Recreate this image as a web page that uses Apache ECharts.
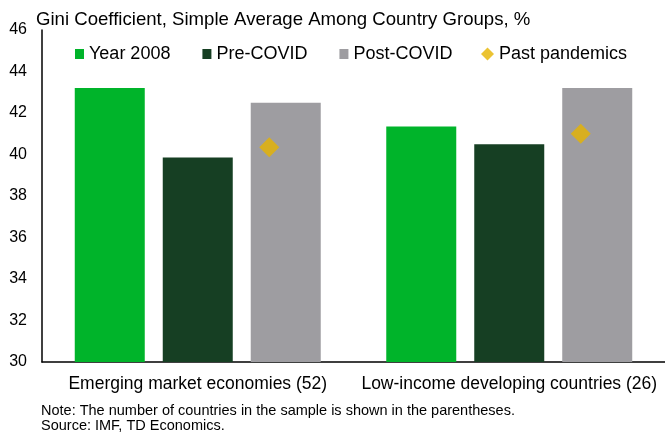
<!DOCTYPE html>
<html>
<head>
<meta charset="utf-8">
<script src="https://cdn.jsdelivr.net/npm/echarts@6/dist/echarts.min.js"></script>
<style>
  html, body { margin: 0; padding: 0; background: #fff; }
  #chart { width: 665px; height: 436px; }
</style>
</head>
<body>
<div id="chart"></div>
<script>
// Country groups on the category axis
const categories = ['Emerging market economies (52)', 'Low-income developing countries (26)'];

// Gini coefficient, simple average per group (%)
const year2008 = [43.2, 41.35];
const preCovid = [39.85, 40.5];
const postCovid = [42.5, 43.2];
const pastPandemics = [40.35, 41.0];

// Value axis range
const yMin = 30;
const yMax = 46;
const yStep = 2;

const FONT = '"Liberation Sans", Arial, sans-serif';
const chart = echarts.init(document.getElementById('chart'), null, { renderer: 'canvas' });

const legendText = { fontFamily: FONT, fontSize: 18, color: '#000' };

chart.setOption({
  animation: false,
  backgroundColor: '#ffffff',
  textStyle: { fontFamily: FONT },
  title: [
    {
      text: 'Gini Coefficient, Simple Average Among Country Groups, %',
      left: 36,
      top: 10,
      padding: 0,
      textStyle: { fontFamily: FONT, fontSize: 18.6, fontWeight: 'normal', color: '#000' }
    },
    {
      text: 'Note: The number of countries in the sample is shown in the parentheses.\nSource: IMF, TD Economics.',
      left: 41,
      top: 403,
      padding: 0,
      textStyle: { fontFamily: FONT, fontSize: 14.5, fontWeight: 'normal', color: '#000', lineHeight: 15 }
    }
  ],
  legend: [
    {
      left: 75,
      top: 45,
      padding: 0,
      itemWidth: 9,
      itemHeight: 10,
      itemGap: 32,
      textStyle: legendText,
      data: [
        { name: 'Year 2008', icon: 'rect' },
        { name: 'Pre-COVID', icon: 'rect' },
        { name: 'Post-COVID', icon: 'rect' }
      ]
    },
    {
      left: 481,
      top: 45,
      padding: 0,
      itemWidth: 13,
      itemHeight: 13,
      textStyle: legendText,
      data: [{ name: 'Past pandemics', icon: 'diamond' }]
    }
  ],
  grid: { left: 42, top: 30, width: 629, height: 332, containLabel: false },
  xAxis: {
    type: 'category',
    data: categories,
    axisLine: { lineStyle: { color: '#000', width: 1.5 } },
    axisTick: { show: false },
    axisLabel: {
      interval: 0,
      margin: 13,
      fontFamily: FONT,
      fontSize: 17.5,
      color: '#000'
    }
  },
  yAxis: {
    type: 'value',
    min: yMin,
    max: yMax,
    interval: yStep,
    axisLine: { show: true, lineStyle: { color: '#000', width: 1.5 } },
    axisTick: { show: false },
    splitLine: { show: false },
    axisLabel: { margin: 15, fontFamily: FONT, fontSize: 16, color: '#000' }
  },
  series: [
    {
      name: 'Year 2008',
      type: 'bar',
      data: year2008,
      barWidth: 70,
      barGap: '25.7%',
      itemStyle: { color: '#00B42A' }
    },
    {
      name: 'Pre-COVID',
      type: 'bar',
      data: preCovid,
      barWidth: 70,
      barGap: '25.7%',
      itemStyle: { color: '#163F23' }
    },
    {
      name: 'Post-COVID',
      type: 'bar',
      data: postCovid,
      barWidth: 70,
      barGap: '25.7%',
      itemStyle: { color: '#9E9DA1' }
    },
    {
      name: 'Past pandemics',
      type: 'scatter',
      data: pastPandemics,
      symbol: 'diamond',
      symbolSize: 20,
      symbolOffset: [71.5, 0],
      itemStyle: { color: '#E6B400' },
      z: 5
    }
  ]
});
</script>
</body>
</html>
